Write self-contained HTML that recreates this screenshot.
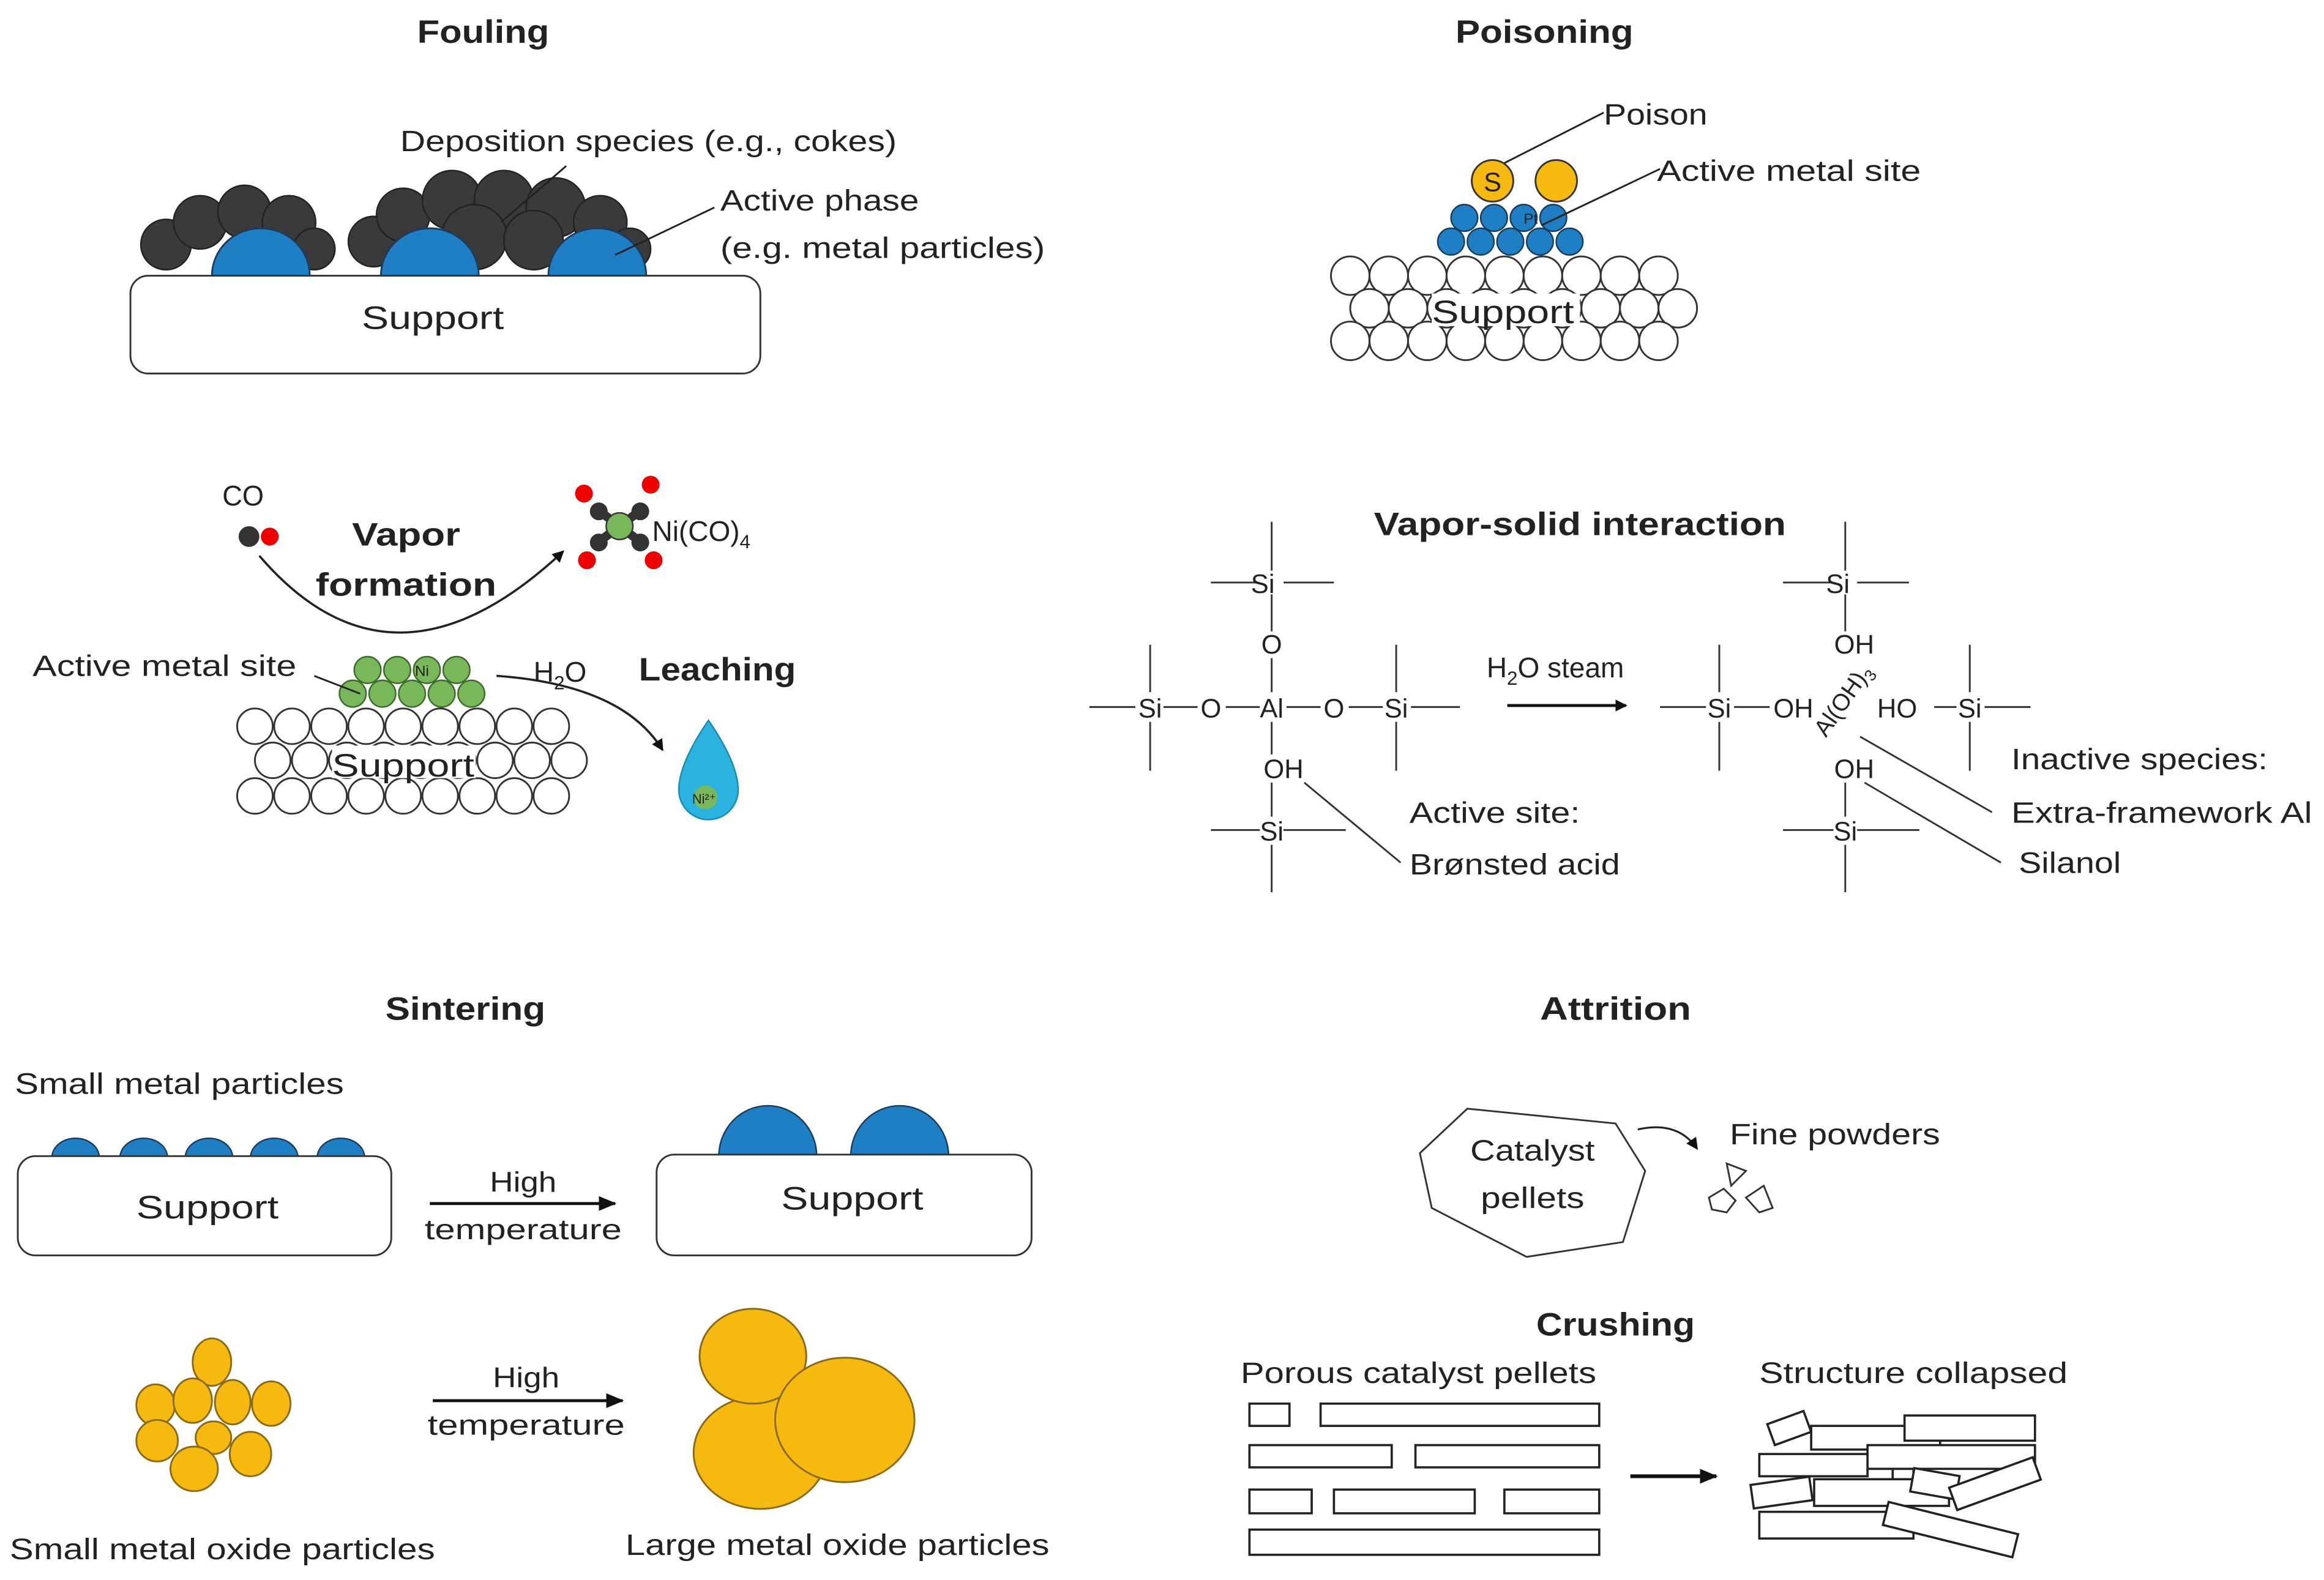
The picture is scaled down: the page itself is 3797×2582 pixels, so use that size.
<!DOCTYPE html>
<html><head><meta charset="utf-8"><style>html,body{margin:0;padding:0;background:#fff}svg{display:block}text{font-family:"Liberation Sans",sans-serif;fill:#222}</style></head><body>
<svg width="3797" height="2582" viewBox="0 0 1568 1066" preserveAspectRatio="none" xmlns="http://www.w3.org/2000/svg">
<defs><marker id="ah" markerWidth="8" markerHeight="8" refX="7" refY="4" orient="auto" markerUnits="userSpaceOnUse"><path d="M0,0 L8,4 L0,8 z" fill="#111"/></marker>
<marker id="ah2" markerWidth="12" markerHeight="10" refX="11" refY="5" orient="auto" markerUnits="userSpaceOnUse"><path d="M0,0 L12,5 L0,10 z" fill="#111"/></marker></defs>
<g font-size="22" font-weight="bold" text-anchor="middle" lengthAdjust="spacingAndGlyphs">
<text x="326" y="29" textLength="89" lengthAdjust="spacingAndGlyphs">Fouling</text><text x="1042" y="29" textLength="120" lengthAdjust="spacingAndGlyphs">Poisoning</text>
<text x="1066" y="361" textLength="278" lengthAdjust="spacingAndGlyphs">Vapor-solid interaction</text>
<text x="314" y="688" textLength="108" lengthAdjust="spacingAndGlyphs">Sintering</text><text x="1090" y="688" textLength="102" lengthAdjust="spacingAndGlyphs">Attrition</text><text x="1090" y="901" textLength="107" lengthAdjust="spacingAndGlyphs">Crushing</text>
<text x="274" y="368" textLength="73" lengthAdjust="spacingAndGlyphs">Vapor</text><text x="274" y="402" textLength="122" lengthAdjust="spacingAndGlyphs">formation</text><text x="484" y="459" textLength="106" lengthAdjust="spacingAndGlyphs">Leaching</text>
</g>
<!-- Fouling -->
<g fill="#3a3a3a" stroke="#222" stroke-width="1">
<circle cx="112" cy="165" r="17"/><circle cx="135" cy="150" r="18"/><circle cx="165" cy="143" r="18"/><circle cx="195" cy="150" r="18"/><circle cx="212" cy="168" r="14"/>
<circle cx="252" cy="163" r="17"/><circle cx="272" cy="145" r="18"/><circle cx="305" cy="135" r="20"/><circle cx="340" cy="135" r="20"/><circle cx="375" cy="140" r="20"/><circle cx="405" cy="150" r="18"/><circle cx="425" cy="168" r="14"/><circle cx="320" cy="160" r="22"/><circle cx="360" cy="162" r="20"/>
</g>
<g fill="#1e7fc5" stroke="#1a3d5c" stroke-width="1.2">
<path d="M143,186 A33,32 0 0 1 209,186 z"/><path d="M257,186 A33,32 0 0 1 323,186 z"/><path d="M370,186 A33,32 0 0 1 436,186 z"/></g>
<rect x="88" y="186" width="425" height="66" rx="12" fill="#fff" stroke="#333" stroke-width="1.2"/>
<g font-size="22"><text x="292" y="222" text-anchor="middle" textLength="96" lengthAdjust="spacingAndGlyphs">Support</text></g>
<g font-size="20"><text x="270" y="102" textLength="335" lengthAdjust="spacingAndGlyphs">Deposition species (e.g., cokes)</text><text x="486" y="142" textLength="134" lengthAdjust="spacingAndGlyphs">Active phase</text><text x="486" y="174" textLength="219" lengthAdjust="spacingAndGlyphs">(e.g. metal particles)</text></g>
<g stroke="#222" stroke-width="1.2"><line x1="338" y1="150" x2="382" y2="112"/><line x1="415" y1="172" x2="482" y2="140"/></g>
<!-- Poisoning -->
<g fill="#fff" stroke="#333" stroke-width="1.2">
<circle cx="911" cy="186" r="13"/><circle cx="937" cy="186" r="13"/><circle cx="963" cy="186" r="13"/><circle cx="989" cy="186" r="13"/><circle cx="1015" cy="186" r="13"/><circle cx="1041" cy="186" r="13"/><circle cx="1067" cy="186" r="13"/><circle cx="1093" cy="186" r="13"/><circle cx="1119" cy="186" r="13"/>
<circle cx="924" cy="208" r="13"/><circle cx="950" cy="208" r="13"/><circle cx="976" cy="208" r="13"/><circle cx="1002" cy="208" r="13"/><circle cx="1028" cy="208" r="13"/><circle cx="1054" cy="208" r="13"/><circle cx="1080" cy="208" r="13"/><circle cx="1106" cy="208" r="13"/><circle cx="1132" cy="208" r="13"/>
<circle cx="911" cy="230" r="13"/><circle cx="937" cy="230" r="13"/><circle cx="963" cy="230" r="13"/><circle cx="989" cy="230" r="13"/><circle cx="1015" cy="230" r="13"/><circle cx="1041" cy="230" r="13"/><circle cx="1067" cy="230" r="13"/><circle cx="1093" cy="230" r="13"/><circle cx="1119" cy="230" r="13"/></g>
<rect x="966" y="198" width="100" height="22" fill="#fff"/>
<text x="1014" y="218" font-size="22" text-anchor="middle" textLength="96" lengthAdjust="spacingAndGlyphs">Support</text>
<g fill="#1e7fc5" stroke="#1a3d5c" stroke-width="1">
<circle cx="988" cy="147" r="9"/><circle cx="1008" cy="147" r="9"/><circle cx="1028" cy="147" r="9"/><circle cx="1048" cy="147" r="9"/>
<circle cx="979" cy="163" r="9"/><circle cx="999" cy="163" r="9"/><circle cx="1019" cy="163" r="9"/><circle cx="1039" cy="163" r="9"/><circle cx="1059" cy="163" r="9"/></g>
<text x="1028" y="151" font-size="10">Pt</text>
<g fill="#f6b90f" stroke="#333" stroke-width="1.2"><circle cx="1007" cy="122" r="14"/><circle cx="1050" cy="122" r="14"/></g>
<text x="1007" y="129" font-size="18" text-anchor="middle">S</text>
<g font-size="20"><text x="1082" y="84" textLength="70" lengthAdjust="spacingAndGlyphs">Poison</text><text x="1118" y="122" textLength="178" lengthAdjust="spacingAndGlyphs">Active metal site</text></g>
<g stroke="#222" stroke-width="1.2"><line x1="1015" y1="110" x2="1082" y2="76"/><line x1="1040" y1="152" x2="1120" y2="114"/></g>
<!-- Vapor formation / leaching -->
<text x="150" y="341" font-size="19" textLength="28" lengthAdjust="spacingAndGlyphs">CO</text>
<circle cx="168" cy="362" r="7" fill="#333"/><circle cx="182" cy="362" r="6" fill="#e00"/>
<path d="M175,375 Q265,480 380,372" fill="none" stroke="#222" stroke-width="1.5" marker-end="url(#ah)"/>
<g stroke="#333" stroke-width="6"><line x1="402" y1="343" x2="434" y2="367"/><line x1="434" y1="343" x2="402" y2="367"/></g>
<g fill="#333"><circle cx="404" cy="345" r="6"/><circle cx="432" cy="345" r="6"/><circle cx="404" cy="366" r="6"/><circle cx="432" cy="366" r="6"/></g>
<g fill="#e00"><circle cx="394" cy="333" r="6"/><circle cx="439" cy="327" r="6"/><circle cx="396" cy="378" r="6"/><circle cx="441" cy="378" r="6"/></g>
<circle cx="418" cy="355" r="9" fill="#78b85a" stroke="#333"/>
<text x="440" y="365" font-size="19">Ni(CO)<tspan font-size="13" dy="5">4</tspan></text>
<g fill="#fff" stroke="#333" stroke-width="1.2">
<circle cx="172" cy="490" r="12"/><circle cx="197" cy="490" r="12"/><circle cx="222" cy="490" r="12"/><circle cx="247" cy="490" r="12"/><circle cx="272" cy="490" r="12"/><circle cx="297" cy="490" r="12"/><circle cx="322" cy="490" r="12"/><circle cx="347" cy="490" r="12"/><circle cx="372" cy="490" r="12"/>
<circle cx="184" cy="513" r="12"/><circle cx="209" cy="513" r="12"/><circle cx="234" cy="513" r="12"/><circle cx="259" cy="513" r="12"/><circle cx="284" cy="513" r="12"/><circle cx="309" cy="513" r="12"/><circle cx="334" cy="513" r="12"/><circle cx="359" cy="513" r="12"/><circle cx="384" cy="513" r="12"/>
<circle cx="172" cy="537" r="12"/><circle cx="197" cy="537" r="12"/><circle cx="222" cy="537" r="12"/><circle cx="247" cy="537" r="12"/><circle cx="272" cy="537" r="12"/><circle cx="297" cy="537" r="12"/><circle cx="322" cy="537" r="12"/><circle cx="347" cy="537" r="12"/><circle cx="372" cy="537" r="12"/></g>
<rect x="224" y="503" width="97" height="22" fill="#fff"/>
<text x="272" y="524" font-size="22" text-anchor="middle" textLength="96" lengthAdjust="spacingAndGlyphs">Support</text>
<g fill="#78b85a" stroke="#3d6b2c" stroke-width="1">
<circle cx="248" cy="452" r="9"/><circle cx="268" cy="452" r="9"/><circle cx="288" cy="452" r="9"/><circle cx="308" cy="452" r="9"/>
<circle cx="238" cy="468" r="9"/><circle cx="258" cy="468" r="9"/><circle cx="278" cy="468" r="9"/><circle cx="298" cy="468" r="9"/><circle cx="318" cy="468" r="9"/></g>
<text x="280" y="456" font-size="10">Ni</text>
<text x="22" y="456" font-size="20" textLength="178" lengthAdjust="spacingAndGlyphs">Active metal site</text>
<line x1="212" y1="456" x2="243" y2="468" stroke="#222" stroke-width="1.2"/>
<text x="360" y="460" font-size="19">H<tspan font-size="13" dy="5">2</tspan><tspan dy="-5">O</tspan></text>
<path d="M335,456 Q420,462 447,506" fill="none" stroke="#222" stroke-width="1.5" marker-end="url(#ah)"/>
<path d="M478,486 Q458,515 458,533 A20,20 0 0 0 498,533 Q498,515 478,486 z" fill="#2bb3e0" stroke="#1a8bb0"/>
<circle cx="476" cy="538" r="8" fill="#78b85a"/><text x="467" y="542" font-size="9" fill="#fff">Ni²⁺</text>
<!-- Vapor-solid -->
<g stroke="#333" stroke-width="1.2" fill="none">
<line x1="735" y1="477" x2="766" y2="477"/><line x1="785" y1="477" x2="808" y2="477"/><line x1="827" y1="477" x2="850" y2="477"/><line x1="868" y1="477" x2="891" y2="477"/><line x1="910" y1="477" x2="933" y2="477"/><line x1="952" y1="477" x2="985" y2="477"/>
<line x1="776" y1="435" x2="776" y2="467"/><line x1="776" y1="487" x2="776" y2="520"/><line x1="942" y1="435" x2="942" y2="467"/><line x1="942" y1="487" x2="942" y2="520"/>
<line x1="858" y1="352" x2="858" y2="385"/><line x1="817" y1="393" x2="848" y2="393"/><line x1="866" y1="393" x2="900" y2="393"/><line x1="858" y1="401" x2="858" y2="426"/><line x1="858" y1="444" x2="858" y2="467"/><line x1="858" y1="487" x2="858" y2="509"/><line x1="858" y1="528" x2="858" y2="551"/><line x1="817" y1="560" x2="850" y2="560"/><line x1="866" y1="560" x2="908" y2="560"/><line x1="858" y1="570" x2="858" y2="602"/>
<line x1="880" y1="528" x2="945" y2="582"/>
<line x1="1120" y1="477" x2="1151" y2="477"/><line x1="1170" y1="477" x2="1194" y2="477"/><line x1="1305" y1="477" x2="1320" y2="477"/><line x1="1339" y1="477" x2="1370" y2="477"/>
<line x1="1160" y1="435" x2="1160" y2="467"/><line x1="1160" y1="487" x2="1160" y2="520"/><line x1="1329" y1="435" x2="1329" y2="467"/><line x1="1329" y1="487" x2="1329" y2="520"/>
<line x1="1245" y1="352" x2="1245" y2="385"/><line x1="1203" y1="393" x2="1237" y2="393"/><line x1="1253" y1="393" x2="1288" y2="393"/><line x1="1245" y1="401" x2="1245" y2="426"/>
<line x1="1245" y1="528" x2="1245" y2="551"/><line x1="1203" y1="560" x2="1237" y2="560"/><line x1="1253" y1="560" x2="1295" y2="560"/><line x1="1245" y1="570" x2="1245" y2="602"/>
<line x1="1258" y1="528" x2="1350" y2="582"/><line x1="1255" y1="497" x2="1344" y2="548"/>
</g>
<line x1="1017" y1="476" x2="1097" y2="476" stroke="#111" stroke-width="2" marker-end="url(#ah)"/>
<g font-size="18" text-anchor="middle">
<text x="776" y="484">Si</text><text x="817" y="484">O</text><text x="858" y="484">Al</text><text x="900" y="484">O</text><text x="942" y="484">Si</text>
<text x="852" y="400">Si</text><text x="858" y="441">O</text><text x="866" y="525">OH</text><text x="858" y="567">Si</text>
<text x="1160" y="484">Si</text><text x="1210" y="484">OH</text><text x="1280" y="484">HO</text><text x="1329" y="484">Si</text>
<text x="1240" y="400">Si</text><text x="1251" y="441">OH</text><text x="1251" y="525">OH</text><text x="1245" y="567">Si</text>
</g>
<text x="1232" y="498" font-size="16" transform="rotate(-55 1232 498)">Al(OH)<tspan font-size="11" dy="4">3</tspan></text>
<text x="1003" y="457" font-size="19">H<tspan font-size="13" dy="5">2</tspan><tspan dy="-5">O steam</tspan></text>
<g font-size="20"><text x="951" y="555" textLength="115" lengthAdjust="spacingAndGlyphs">Active site:</text><text x="951" y="590" textLength="142" lengthAdjust="spacingAndGlyphs">Brønsted acid</text>
<text x="1357" y="519" textLength="173" lengthAdjust="spacingAndGlyphs">Inactive species:</text><text x="1357" y="555" textLength="203" lengthAdjust="spacingAndGlyphs">Extra-framework Al</text><text x="1362" y="589" textLength="69" lengthAdjust="spacingAndGlyphs">Silanol</text></g>
<!-- Sintering -->
<text x="10" y="738" font-size="20" textLength="222" lengthAdjust="spacingAndGlyphs">Small metal particles</text>
<g fill="#1e7fc5" stroke="#1a3d5c" stroke-width="1">
<path d="M35,781 A16,13 0 0 1 67,781 z"/><path d="M81,781 A16,13 0 0 1 113,781 z"/><path d="M125,781 A16,13 0 0 1 157,781 z"/><path d="M169,781 A16,13 0 0 1 201,781 z"/><path d="M214,781 A16,13 0 0 1 246,781 z"/>
<path d="M485,780 A33,34 0 0 1 551,780 z"/><path d="M574,780 A33,34 0 0 1 640,780 z"/></g>
<rect x="12" y="780" width="252" height="67" rx="12" fill="#fff" stroke="#333" stroke-width="1.2"/>
<rect x="443" y="779" width="253" height="68" rx="12" fill="#fff" stroke="#333" stroke-width="1.2"/>
<g font-size="22" text-anchor="middle"><text x="140" y="822" textLength="96" lengthAdjust="spacingAndGlyphs">Support</text><text x="575" y="816" textLength="96" lengthAdjust="spacingAndGlyphs">Support</text></g>
<line x1="290" y1="812" x2="415" y2="812" stroke="#111" stroke-width="2" marker-end="url(#ah2)"/>
<line x1="292" y1="945" x2="420" y2="945" stroke="#111" stroke-width="2" marker-end="url(#ah2)"/>
<g font-size="19" text-anchor="middle"><text x="353" y="804" textLength="45" lengthAdjust="spacingAndGlyphs">High</text><text x="353" y="836" textLength="133" lengthAdjust="spacingAndGlyphs">temperature</text><text x="355" y="936" textLength="45" lengthAdjust="spacingAndGlyphs">High</text><text x="355" y="968" textLength="133" lengthAdjust="spacingAndGlyphs">temperature</text></g>
<g fill="#f6b90f" stroke="#8a6a10" stroke-width="1.2">
<ellipse cx="143" cy="919" rx="13" ry="16"/><ellipse cx="105" cy="948" rx="13" ry="14"/><ellipse cx="130" cy="945" rx="13" ry="15"/><ellipse cx="157" cy="946" rx="12" ry="15"/><ellipse cx="183" cy="947" rx="13" ry="15"/>
<ellipse cx="106" cy="972" rx="14" ry="14"/><ellipse cx="144" cy="970" rx="12" ry="11"/><ellipse cx="169" cy="981" rx="14" ry="15"/><ellipse cx="131" cy="991" rx="16" ry="15"/>
<ellipse cx="513" cy="980" rx="45" ry="38"/><ellipse cx="508" cy="915" rx="36" ry="32"/><ellipse cx="570" cy="958" rx="47" ry="42"/></g>
<g font-size="20" text-anchor="middle"><text x="150" y="1052" textLength="287" lengthAdjust="spacingAndGlyphs">Small metal oxide particles</text><text x="565" y="1049" textLength="286" lengthAdjust="spacingAndGlyphs">Large metal oxide particles</text></g>
<!-- Attrition -->
<polygon points="958,778 990,748 1090,758 1110,790 1095,838 1030,848 966,815" fill="#fff" stroke="#333" stroke-width="1.2"/>
<g font-size="20" text-anchor="middle"><text x="1034" y="783" textLength="84" lengthAdjust="spacingAndGlyphs">Catalyst</text><text x="1034" y="815" textLength="70" lengthAdjust="spacingAndGlyphs">pellets</text></g>
<path d="M1105,762 Q1132,756 1145,775" fill="none" stroke="#222" stroke-width="1.3" marker-end="url(#ah)"/>
<text x="1167" y="772" font-size="20" textLength="142" lengthAdjust="spacingAndGlyphs">Fine powders</text>
<g fill="#fff" stroke="#333" stroke-width="1.2"><polygon points="1165,785 1178,790 1168,800"/><polygon points="1153,808 1163,802 1171,810 1165,818 1155,816"/><polygon points="1178,808 1190,800 1196,815 1187,818"/></g>
<!-- Crushing -->
<text x="957" y="933" font-size="20" text-anchor="middle" textLength="240" lengthAdjust="spacingAndGlyphs">Porous catalyst pellets</text>
<text x="1291" y="933" font-size="20" text-anchor="middle" textLength="208" lengthAdjust="spacingAndGlyphs">Structure  collapsed</text>
<g fill="#fff" stroke="#222" stroke-width="1.5">
<rect x="843" y="947" width="27" height="15"/><rect x="891" y="947" width="188" height="15"/>
<rect x="843" y="975" width="96" height="15"/><rect x="955" y="975" width="124" height="15"/>
<rect x="843" y="1005" width="42" height="16"/><rect x="900" y="1005" width="95" height="16"/><rect x="1015" y="1005" width="64" height="16"/>
<rect x="843" y="1032" width="236" height="17"/>
<rect x="1222" y="962" width="87" height="16"/><rect x="1285" y="955" width="88" height="17"/>
<rect x="1194" y="956" width="26" height="15" transform="rotate(-20 1207 963)"/>
<rect x="1260" y="975" width="113" height="16"/><rect x="1187" y="981" width="73" height="15"/>
<rect x="1277" y="991" width="14" height="8"/>
<rect x="1224" y="998" width="91" height="18"/>
<rect x="1182" y="999" width="40" height="16" transform="rotate(-8 1202 1007)"/>
<rect x="1290" y="993" width="31" height="16" transform="rotate(10 1305 1001)"/>
<rect x="1316" y="993" width="60" height="16" transform="rotate(-20 1346 1001)"/>
<rect x="1187" y="1020" width="104" height="18"/>
<rect x="1271" y="1024" width="90" height="16" transform="rotate(14 1316 1032)"/>
</g>
<line x1="1100" y1="996" x2="1158" y2="996" stroke="#111" stroke-width="2.5" marker-end="url(#ah2)"/>
</svg>
</body></html>
